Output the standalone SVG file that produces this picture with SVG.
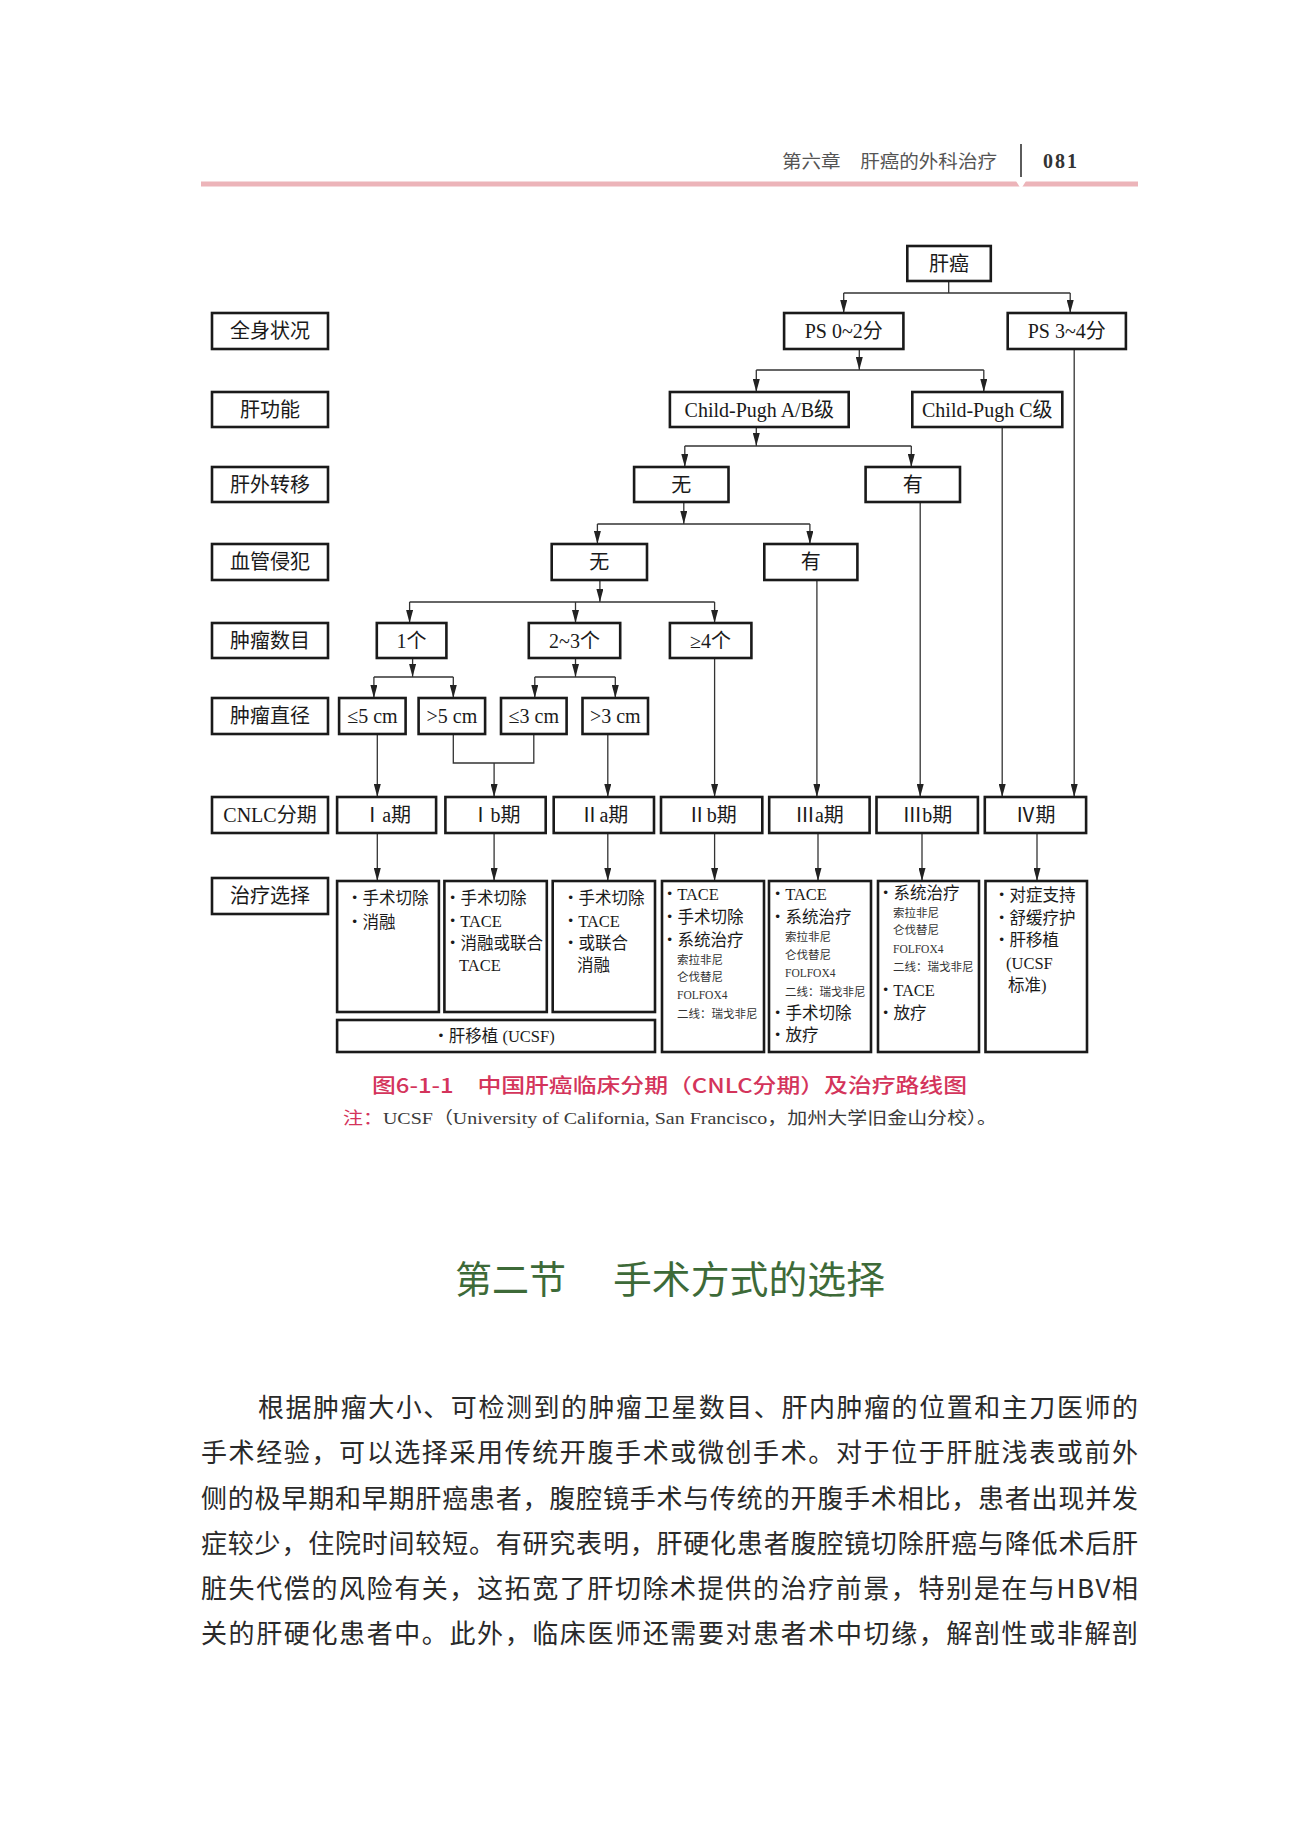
<svg xmlns="http://www.w3.org/2000/svg" width="1310" height="1836" viewBox="0 0 1310 1836">
<defs>
<marker id="arr" markerUnits="userSpaceOnUse" markerWidth="7" markerHeight="13" refX="3.5" refY="13" orient="0" viewBox="0 0 7 13">
<path d="M0,0 L7,0 L3.5,13 Z" fill="#222"/>
</marker>
<style>
.box{fill:#fff;stroke:#1a1a1a;stroke-width:2.6}
.conn line,.conn path{stroke:#333;stroke-width:1.3;fill:none}
.t{font-family:"Liberation Serif","Noto Sans CJK SC",serif;font-size:20px;fill:#1a1a1a;text-anchor:middle}
.tr{font-family:"Liberation Serif","Noto Sans CJK SC",serif;font-size:16.5px;fill:#1a1a1a}
.ts{font-family:"Liberation Serif","Noto Sans CJK SC",serif;font-size:11.5px;fill:#333}
.bu{font-family:"Liberation Serif",serif;font-size:22px;font-weight:bold}
.body{font-family:"Noto Sans CJK SC",sans-serif;font-size:26px;fill:#2a2a2a}
</style>
</defs>
<rect width="1310" height="1836" fill="#fff"/>

<g id="header">
<text x="782" y="168" font-family="Noto Sans CJK SC, sans-serif" font-size="18" fill="#555" textLength="215" lengthAdjust="spacingAndGlyphs">第六章　肝癌的外科治疗</text>
<line x1="1021" y1="144" x2="1021" y2="177" stroke="#333" stroke-width="1.6"/>
<text x="1043" y="168" font-family="Liberation Serif, serif" font-size="20" font-weight="bold" fill="#333" textLength="34">081</text>
<rect x="201" y="181.5" width="937" height="5" fill="#ecb4b9"/>
<polygon points="1016,181 1026,181 1021,189" fill="#fff"/>
</g>

<g class="conn">
<line x1="948.7" y1="281" x2="948.7" y2="293"/>
<line x1="843.7" y1="293" x2="1070.2" y2="293"/>
<line x1="843.7" y1="293" x2="843.7" y2="313" marker-end="url(#arr)"/>
<line x1="1070.2" y1="293" x2="1070.2" y2="313" marker-end="url(#arr)"/>

<line x1="859.3" y1="349" x2="859.3" y2="370" marker-end="url(#arr)"/>
<line x1="756.3" y1="370" x2="983.8" y2="370"/>
<line x1="756.3" y1="370" x2="756.3" y2="392" marker-end="url(#arr)"/>
<line x1="983.8" y1="370" x2="983.8" y2="392" marker-end="url(#arr)"/>

<line x1="756.3" y1="427" x2="756.3" y2="446" marker-end="url(#arr)"/>
<line x1="684.8" y1="446" x2="911.3" y2="446"/>
<line x1="684.8" y1="446" x2="684.8" y2="467" marker-end="url(#arr)"/>
<line x1="911.3" y1="446" x2="911.3" y2="467" marker-end="url(#arr)"/>

<line x1="683.8" y1="502" x2="683.8" y2="524" marker-end="url(#arr)"/>
<line x1="597.4" y1="524" x2="809.9" y2="524"/>
<line x1="597.4" y1="524" x2="597.4" y2="544" marker-end="url(#arr)"/>
<line x1="809.9" y1="524" x2="809.9" y2="544" marker-end="url(#arr)"/>

<line x1="599.9" y1="580" x2="599.9" y2="602" marker-end="url(#arr)"/>
<line x1="409.6" y1="602" x2="714.6" y2="602"/>
<line x1="409.6" y1="602" x2="409.6" y2="623" marker-end="url(#arr)"/>
<line x1="575.5" y1="602" x2="575.5" y2="623" marker-end="url(#arr)"/>
<line x1="714.6" y1="602" x2="714.6" y2="623" marker-end="url(#arr)"/>

<line x1="412.6" y1="658" x2="412.6" y2="677" marker-end="url(#arr)"/>
<line x1="373.9" y1="677" x2="453.3" y2="677"/>
<line x1="373.9" y1="677" x2="373.9" y2="698" marker-end="url(#arr)"/>
<line x1="453.3" y1="677" x2="453.3" y2="698" marker-end="url(#arr)"/>

<line x1="575.5" y1="658" x2="575.5" y2="677" marker-end="url(#arr)"/>
<line x1="534.8" y1="677" x2="615.3" y2="677"/>
<line x1="534.8" y1="677" x2="534.8" y2="698" marker-end="url(#arr)"/>
<line x1="615.3" y1="677" x2="615.3" y2="698" marker-end="url(#arr)"/>

<line x1="377.3" y1="734" x2="377.3" y2="797" marker-end="url(#arr)"/>
<path d="M453.3,734 V763 H533.8 V734"/>
<line x1="494.1" y1="763" x2="494.1" y2="797" marker-end="url(#arr)"/>
<line x1="607.8" y1="734" x2="607.8" y2="797" marker-end="url(#arr)"/>
<line x1="714.6" y1="658" x2="714.6" y2="797" marker-end="url(#arr)"/>
<line x1="816.9" y1="580" x2="816.9" y2="797" marker-end="url(#arr)"/>
<line x1="920.2" y1="502" x2="920.2" y2="797" marker-end="url(#arr)"/>
<line x1="1002.2" y1="427" x2="1002.2" y2="797" marker-end="url(#arr)"/>
<line x1="1074.2" y1="349" x2="1074.2" y2="797" marker-end="url(#arr)"/>

<line x1="377.3" y1="833" x2="377.3" y2="881" marker-end="url(#arr)"/>
<line x1="494.1" y1="833" x2="494.1" y2="881" marker-end="url(#arr)"/>
<line x1="607.8" y1="833" x2="607.8" y2="881" marker-end="url(#arr)"/>
<line x1="714.6" y1="833" x2="714.6" y2="881" marker-end="url(#arr)"/>
<line x1="818" y1="833" x2="818" y2="881" marker-end="url(#arr)"/>
<line x1="922" y1="833" x2="922" y2="881" marker-end="url(#arr)"/>
<line x1="1037" y1="833" x2="1037" y2="881" marker-end="url(#arr)"/>
</g>

<g id="label-quanshen"><rect class="box" x="212" y="313" width="116" height="36"/><text class="t" x="270" y="338">全身状况</text></g>
<g id="label-ganfunc"><rect class="box" x="212" y="392" width="116" height="35"/><text class="t" x="270" y="416.5">肝功能</text></g>
<g id="label-ganwai"><rect class="box" x="212" y="467" width="116" height="35"/><text class="t" x="270" y="491.5">肝外转移</text></g>
<g id="label-xueguan"><rect class="box" x="212" y="544" width="116" height="36"/><text class="t" x="270" y="569">血管侵犯</text></g>
<g id="label-shumu"><rect class="box" x="212" y="623" width="116" height="35"/><text class="t" x="270" y="647.5">肿瘤数目</text></g>
<g id="label-zhijing"><rect class="box" x="212" y="698" width="116" height="36"/><text class="t" x="270" y="723">肿瘤直径</text></g>
<g id="label-cnlc"><rect class="box" x="212" y="797" width="116" height="36"/><text class="t" x="270" y="822">CNLC分期</text></g>
<g id="label-zhiliao"><rect class="box" x="212" y="878" width="116" height="36"/><text class="t" x="270" y="903">治疗选择</text></g>

<g id="n-gan"><rect class="box" x="907.3" y="246" width="83.5" height="35"/><text class="t" x="949" y="270.5">肝癌</text></g>
<g id="n-ps02"><rect class="box" x="784.1" y="313" width="119.3" height="36"/><text class="t" x="843.7" y="338">PS 0~2分</text></g>
<g id="n-ps34"><rect class="box" x="1007.7" y="313" width="118.2" height="36"/><text class="t" x="1066.8" y="338">PS 3~4分</text></g>
<g id="n-cpab"><rect class="box" x="669.9" y="392" width="178.8" height="35"/><text class="t" x="759.3" y="416.5">Child-Pugh A/B级</text></g>
<g id="n-cpc"><rect class="box" x="912.3" y="392" width="150" height="35"/><text class="t" x="987.3" y="416.5">Child-Pugh C级</text></g>
<g id="n-ganwai-wu"><rect class="box" x="634.1" y="467" width="94.4" height="35"/><text class="t" x="681.3" y="491.5">无</text></g>
<g id="n-ganwai-you"><rect class="box" x="865.6" y="467" width="94.4" height="35"/><text class="t" x="912.8" y="491.5">有</text></g>
<g id="n-xg-wu"><rect class="box" x="551.7" y="544" width="95.3" height="36"/><text class="t" x="599.3" y="569">无</text></g>
<g id="n-xg-you"><rect class="box" x="764.3" y="544" width="93.1" height="36"/><text class="t" x="810.8" y="569">有</text></g>
<g id="n-1ge"><rect class="box" x="376.8" y="623" width="69.6" height="35"/><text class="t" x="411.6" y="647.5">1个</text></g>
<g id="n-23ge"><rect class="box" x="528.8" y="623" width="91.4" height="35"/><text class="t" x="574.5" y="647.5">2~3个</text></g>
<g id="n-4ge"><rect class="box" x="669.9" y="623" width="81.5" height="35"/><text class="t" x="710.6" y="647.5">≥4个</text></g>
<g id="n-le5"><rect class="box" x="339.1" y="698" width="66.5" height="36"/><text class="t" x="372.4" y="723">≤5 cm</text></g>
<g id="n-gt5"><rect class="box" x="418.6" y="698" width="66.5" height="36"/><text class="t" x="451.9" y="723">&gt;5 cm</text></g>
<g id="n-le3"><rect class="box" x="501" y="698" width="65.6" height="36"/><text class="t" x="533.8" y="723">≤3 cm</text></g>
<g id="n-gt3"><rect class="box" x="582.5" y="698" width="65.5" height="36"/><text class="t" x="615.3" y="723">&gt;3 cm</text></g>

<g id="s-1a"><rect class="box" x="337.1" y="797" width="99" height="36"/><text class="t" x="386.6" y="822">Ⅰa期</text></g>
<g id="s-1b"><rect class="box" x="445.4" y="797" width="100.3" height="36"/><text class="t" x="495.5" y="822">Ⅰb期</text></g>
<g id="s-2a"><rect class="box" x="553.7" y="797" width="100.3" height="36"/><text class="t" x="603.9" y="822">Ⅱa期</text></g>
<g id="s-2b"><rect class="box" x="661" y="797" width="101.3" height="36"/><text class="t" x="711.7" y="822">Ⅱb期</text></g>
<g id="s-3a"><rect class="box" x="769.2" y="797" width="100.4" height="36"/><text class="t" x="819.4" y="822">Ⅲa期</text></g>
<g id="s-3b"><rect class="box" x="876.5" y="797" width="101.4" height="36"/><text class="t" x="927.2" y="822">Ⅲb期</text></g>
<g id="s-4"><rect class="box" x="984.8" y="797" width="101.3" height="36"/><text class="t" x="1035.5" y="822">Ⅳ期</text></g>

<g id="tx-1a"><rect class="box" x="337.1" y="881" width="101.8" height="131"/>
<text class="tr" x="351" y="904"><tspan class="bu">·</tspan> 手术切除</text>
<text class="tr" x="351" y="928"><tspan class="bu">·</tspan> 消融</text></g>
<g id="tx-1b"><rect class="box" x="444.4" y="881" width="102.4" height="131"/>
<text class="tr" x="449" y="904"><tspan class="bu">·</tspan> 手术切除</text>
<text class="tr" x="449" y="927"><tspan class="bu">·</tspan> TACE</text>
<text class="tr" x="449" y="949"><tspan class="bu">·</tspan> 消融或联合</text>
<text class="tr" x="459" y="971">TACE</text></g>
<g id="tx-2a"><rect class="box" x="552.7" y="881" width="102.3" height="131"/>
<text class="tr" x="567" y="904"><tspan class="bu">·</tspan> 手术切除</text>
<text class="tr" x="567" y="927"><tspan class="bu">·</tspan> TACE</text>
<text class="tr" x="567" y="949"><tspan class="bu">·</tspan> 或联合</text>
<text class="tr" x="577" y="971">消融</text></g>
<g id="tx-ltx"><rect class="box" x="337.1" y="1020" width="317.9" height="32"/>
<text class="tr" x="496" y="1042" text-anchor="middle"><tspan class="bu">·</tspan> 肝移植 (UCSF)</text></g>
<g id="tx-2b"><rect class="box" x="662" y="881" width="102" height="171"/>
<text class="tr" x="666" y="900"><tspan class="bu">·</tspan> TACE</text>
<text class="tr" x="666" y="923"><tspan class="bu">·</tspan> 手术切除</text>
<text class="tr" x="666" y="946"><tspan class="bu">·</tspan> 系统治疗</text>
<text class="ts" x="677" y="964">索拉非尼</text>
<text class="ts" x="677" y="981">仑伐替尼</text>
<text class="ts" x="677" y="999">FOLFOX4</text>
<text class="ts" x="677" y="1018">二线：瑞戈非尼</text></g>
<g id="tx-3a"><rect class="box" x="769" y="881" width="102" height="171"/>
<text class="tr" x="774" y="900"><tspan class="bu">·</tspan> TACE</text>
<text class="tr" x="774" y="923"><tspan class="bu">·</tspan> 系统治疗</text>
<text class="ts" x="785" y="941">索拉非尼</text>
<text class="ts" x="785" y="959">仑伐替尼</text>
<text class="ts" x="785" y="977">FOLFOX4</text>
<text class="ts" x="785" y="996">二线：瑞戈非尼</text>
<text class="tr" x="774" y="1019"><tspan class="bu">·</tspan> 手术切除</text>
<text class="tr" x="774" y="1041"><tspan class="bu">·</tspan> 放疗</text></g>
<g id="tx-3b"><rect class="box" x="878" y="881" width="101" height="171"/>
<text class="tr" x="882" y="899"><tspan class="bu">·</tspan> 系统治疗</text>
<text class="ts" x="893" y="917">索拉非尼</text>
<text class="ts" x="893" y="934">仑伐替尼</text>
<text class="ts" x="893" y="953">FOLFOX4</text>
<text class="ts" x="893" y="971">二线：瑞戈非尼</text>
<text class="tr" x="882" y="996"><tspan class="bu">·</tspan> TACE</text>
<text class="tr" x="882" y="1019"><tspan class="bu">·</tspan> 放疗</text></g>
<g id="tx-4"><rect class="box" x="985.5" y="881" width="101.5" height="171"/>
<text class="tr" x="998" y="901"><tspan class="bu">·</tspan> 对症支持</text>
<text class="tr" x="998" y="924"><tspan class="bu">·</tspan> 舒缓疗护</text>
<text class="tr" x="998" y="946"><tspan class="bu">·</tspan> 肝移植</text>
<text class="tr" x="1006" y="969">(UCSF</text>
<text class="tr" x="1008" y="991">标准)</text></g>

<g id="caption">
<text x="372" y="1093" font-family="Noto Sans CJK SC, sans-serif" font-size="20" font-weight="500" fill="#d4345b" textLength="595" lengthAdjust="spacingAndGlyphs">图6-1-1　中国肝癌临床分期（CNLC分期）及治疗路线图</text>
<text x="343" y="1124" font-family="Liberation Serif, Noto Sans CJK SC, serif" font-size="17" fill="#3a3a3a" textLength="654" lengthAdjust="spacingAndGlyphs"><tspan fill="#d4345b" font-family="Noto Sans CJK SC, sans-serif">注：</tspan>UCSF（University of California, San Francisco，加州大学旧金山分校）。</text>
</g>

<g id="heading">
<text x="455" y="1293" font-family="Noto Sans CJK SC, sans-serif" font-size="38" fill="#3d6a38" textLength="111" lengthAdjust="spacingAndGlyphs">第二节</text>
<text x="613" y="1293" font-family="Noto Sans CJK SC, sans-serif" font-size="38" fill="#3d6a38" textLength="272" lengthAdjust="spacingAndGlyphs">手术方式的选择</text>
</g>

<g id="body">
<text class="body" x="258" y="1417" textLength="880" lengthAdjust="spacing">根据肿瘤大小、可检测到的肿瘤卫星数目、肝内肿瘤的位置和主刀医师的</text>
<text class="body" x="201" y="1462" textLength="937" lengthAdjust="spacing">手术经验，可以选择采用传统开腹手术或微创手术。对于位于肝脏浅表或前外</text>
<text class="body" x="201" y="1508" textLength="937" lengthAdjust="spacing">侧的极早期和早期肝癌患者，腹腔镜手术与传统的开腹手术相比，患者出现并发</text>
<text class="body" x="201" y="1553" textLength="937" lengthAdjust="spacing">症较少，住院时间较短。有研究表明，肝硬化患者腹腔镜切除肝癌与降低术后肝</text>
<text class="body" x="201" y="1598" textLength="937" lengthAdjust="spacing">脏失代偿的风险有关，这拓宽了肝切除术提供的治疗前景，特别是在与HBV相</text>
<text class="body" x="201" y="1643" textLength="937" lengthAdjust="spacing">关的肝硬化患者中。此外，临床医师还需要对患者术中切缘，解剖性或非解剖</text>
</g>
</svg>
